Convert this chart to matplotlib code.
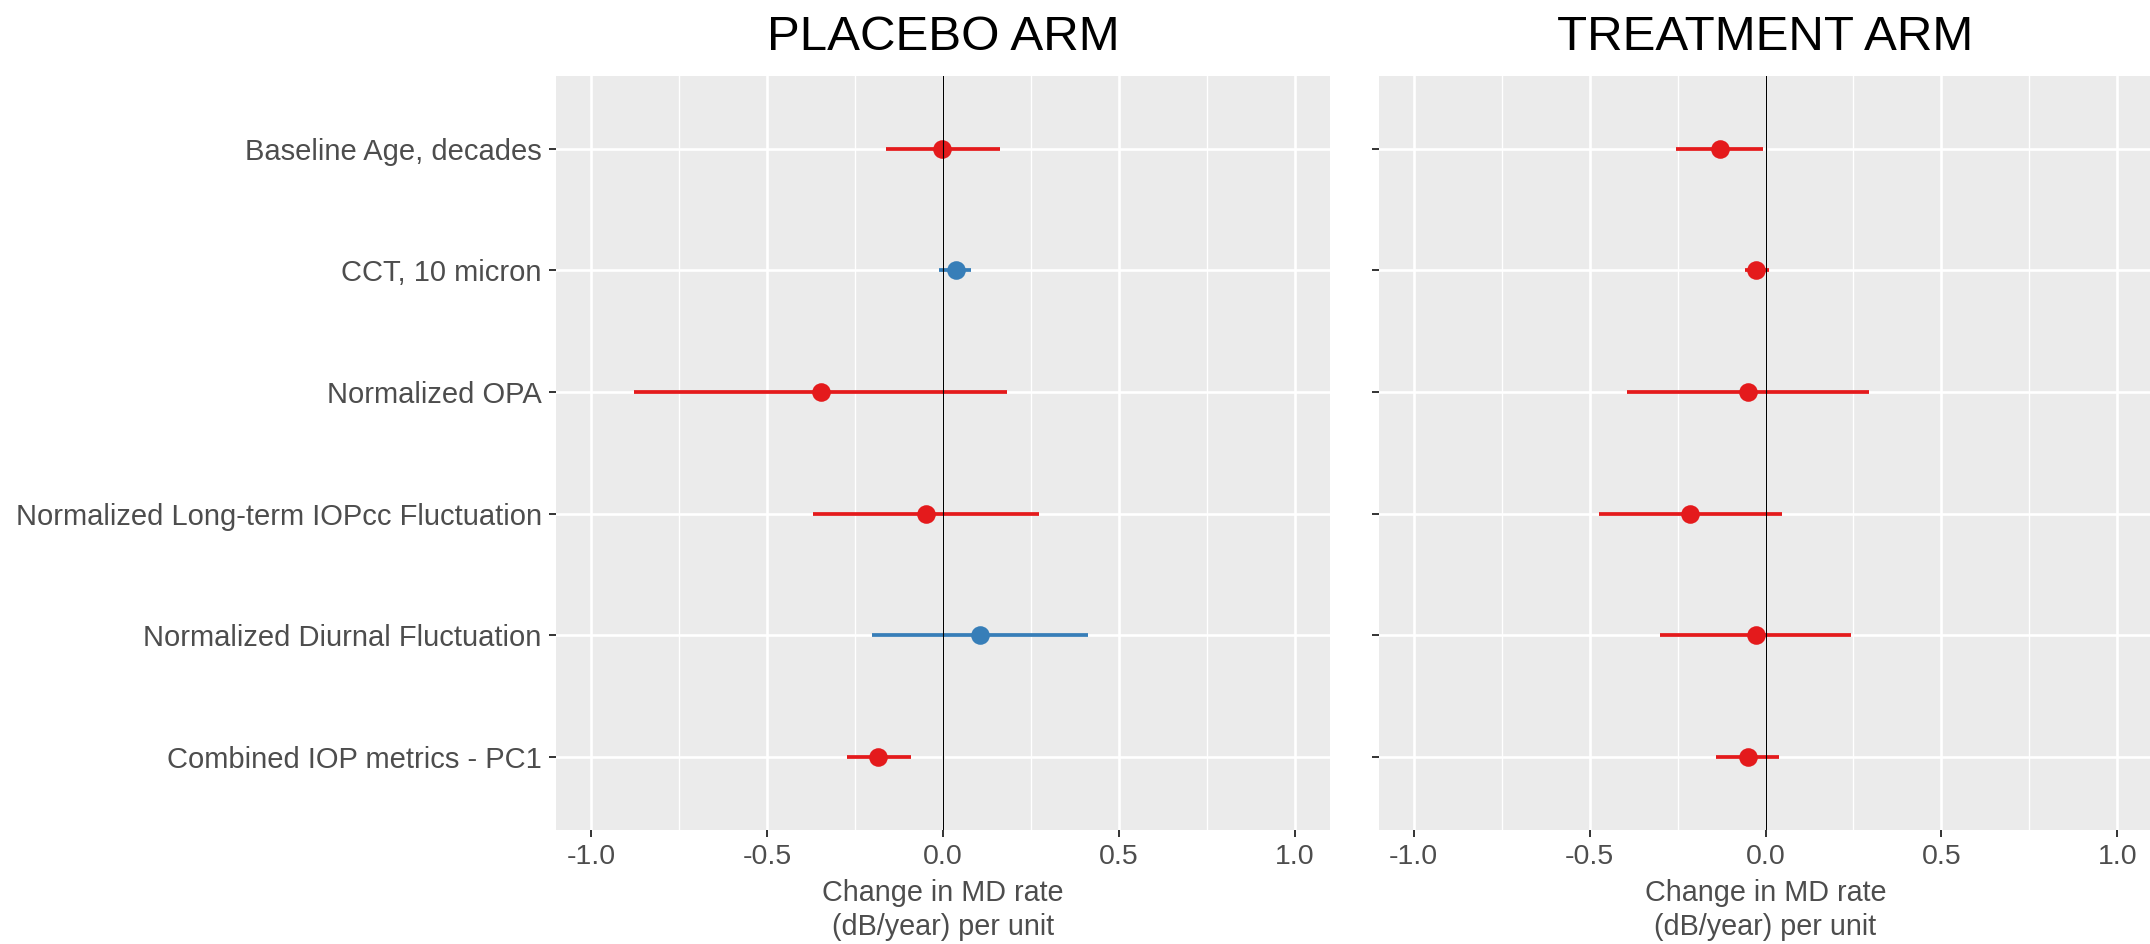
import matplotlib
matplotlib.use("Agg")
import matplotlib.pyplot as plt
from matplotlib.ticker import FixedLocator

# ---------------- data ----------------
categories = ["Baseline Age, decades", "CCT, 10 micron", "Normalized OPA",
              "Normalized Long-term IOPcc Fluctuation",
              "Normalized Diurnal Fluctuation", "Combined IOP metrics - PC1"]

placebo_est = [-0.002, 0.036, -0.348, -0.048, 0.106, -0.185]
placebo_lo = [-0.163, -0.011, -0.877, -0.369, -0.201, -0.274]
placebo_hi = [0.163, 0.081, 0.181, 0.273, 0.413, -0.092]
placebo_grp = ["neg", "pos", "neg", "neg", "pos", "neg"]

treat_est = [-0.130, -0.026, -0.051, -0.214, -0.028, -0.051]
treat_lo = [-0.253, -0.059, -0.394, -0.472, -0.300, -0.141]
treat_hi = [-0.006, 0.011, 0.293, 0.047, 0.243, 0.039]
treat_grp = ["neg", "neg", "neg", "neg", "neg", "neg"]

panel_titles = ["PLACEBO ARM", "TREATMENT ARM"]
x_ticks = [-1.0, -0.5, 0.0, 0.5, 1.0]
x_minor = [-0.75, -0.25, 0.25, 0.75]
x_label = "Change in MD rate\n(dB/year) per unit"

group_colors = {"neg": "#E41A1C", "pos": "#377EB8"}

# ---------------- figure ----------------
plt.rcParams["font.family"] = ["Liberation Sans", "DejaVu Sans"]
W, H = 2150, 944
fig = plt.figure(figsize=(W / 100, H / 100), dpi=100)

ax_w = 774 / W
ax_b = 1 - 830 / H
ax_h = (830 - 75.7) / H
lefts = [556 / W, 1378.5 / W]

panels = [(placebo_est, placebo_lo, placebo_hi, placebo_grp),
          (treat_est, treat_lo, treat_hi, treat_grp)]

n = len(categories)
ypos = [n - i for i in range(n)]

for k, (est, lo, hi, grp) in enumerate(panels):
    ax = fig.add_axes([lefts[k], ax_b, ax_w, ax_h])
    ax.set_facecolor("#EBEBEB")
    for s in ax.spines.values():
        s.set_visible(False)
    ax.set_xlim(-1.1, 1.1)
    ax.set_ylim(0.4, n + 0.6)
    ax.xaxis.set_major_locator(FixedLocator(x_ticks))
    ax.xaxis.set_minor_locator(FixedLocator(x_minor))
    ax.set_xticklabels([f"{t:.1f}" for t in x_ticks])
    ax.set_yticks(ypos)
    if k == 0:
        ax.set_yticklabels(categories)
    else:
        ax.set_yticklabels([])
    ax.set_axisbelow(True)
    ax.grid(which="major", color="white", lw=1.9)
    ax.grid(which="minor", axis="x", color="white", lw=1.0)
    ax.tick_params(which="major", length=5.2, width=1.4, color="#333333",
                   labelcolor="#4D4D4D", pad=5)
    ax.tick_params(axis="x", labelsize=20.5, pad=5)
    ax.tick_params(axis="y", labelsize=21)
    ax.tick_params(which="minor", length=0)

    for i in range(n):
        c = group_colors[grp[i]]
        ax.hlines(ypos[i], lo[i], hi[i], color=c, lw=2.7, zorder=3)
        ax.plot(est[i], ypos[i], "o", ms=13.4, color=c, mec="none", zorder=4)
    ax.axvline(0, color="black", lw=0.8, zorder=5)

    cx = lefts[k] + ax_w / 2
    fig.text(cx, 1 - 50 / H, panel_titles[k], ha="center", va="baseline",
             fontsize=35.5, color="black")
    fig.text(cx, 1 - 901 / H, x_label.split("\n")[0], ha="center",
             va="baseline", fontsize=20.7, color="#4D4D4D")
    fig.text(cx, 1 - 935 / H, x_label.split("\n")[1], ha="center",
             va="baseline", fontsize=20.7, color="#4D4D4D")

fig.savefig("out.png", dpi=100)
